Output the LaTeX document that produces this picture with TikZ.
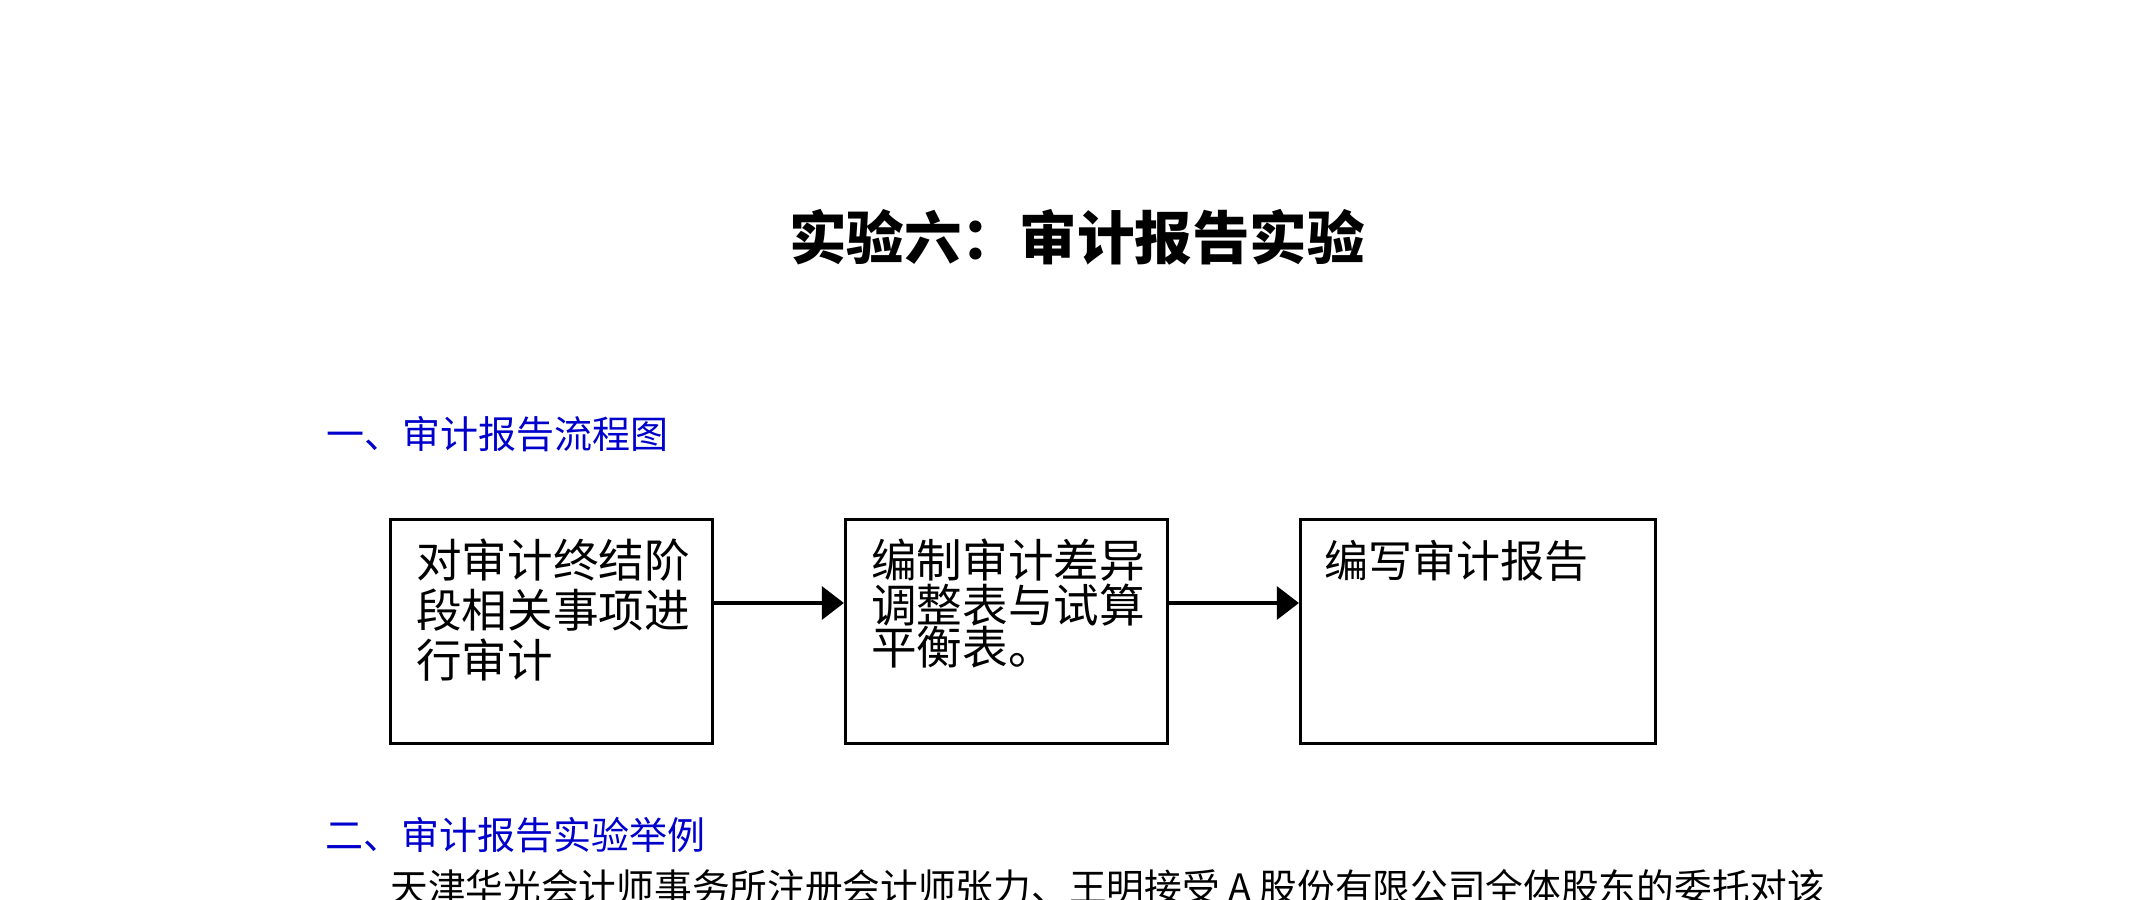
\documentclass[tikz,border=0pt]{standalone}
\usepackage{fontspec}
\setmainfont{Noto Sans CJK SC}
\usetikzlibrary{arrows.meta,positioning}
\definecolor{headblue}{RGB}{0,0,204}
\tikzset{
  box/.style={draw, line width=1.6pt, minimum width=161pt, minimum height=112pt, inner sep=0pt},
  boxtext/.style={align=left, inner sep=0pt, font=\fontsize{22.8}{25}\selectfont},
  flow/.style={line width=1.6pt, -{Triangle[length=11pt,width=16.5pt]}},
  heading/.style={anchor=west, inner sep=0pt, text=headblue, font=\fontsize{19}{22}\selectfont},
}
\begin{document}
\begin{tikzpicture}[x=0.5pt, y=-0.5pt]
        \useasboundingbox (0,0) rectangle (2149,900);
        \node[font=\bfseries\fontsize{28.8}{32}\selectfont] (title) at (1077,237) {实验六：审计报告实验};
        \node[heading] (sec1) at (326,434) {一、审计报告流程图};
        
        \node[box] (b1) at (551.5,631.5) {};
        \node[box] (b2) at (1006.5,631.5) {};
        \node[box, minimum width=177.5pt] (b3) at (1478,631.5) {};
        
        \node[boxtext, below right=10.5pt and 13.5pt of b1.north west] (t1) {对审计终结阶\\段相关事项进\\行审计};
        \node[boxtext, font=\fontsize{22.8}{21}\selectfont, below right=10.5pt and 13.5pt of b2.north west] (t2) {编制审计差异\\调整表与试算\\平衡表。};
        \node[boxtext, font=\fontsize{22}{25}\selectfont, below right=10.75pt and 12.75pt of b3.north west] (t3) {编写审计报告};
        
        \draw[flow] ([yshift=14.25pt]b1.east) -- ([yshift=14.25pt]b2.west);
        \draw[flow] ([yshift=14.25pt]b2.east) -- ([yshift=14.25pt]b3.west);
        
        \node[heading] (sec2) at (325,835) {二、审计报告实验举例};
        \node[anchor=west, inner sep=0pt, font=\fontsize{18.85}{22}\selectfont] (para) at (390,887) {天津华光会计师事务所注册会计师张力、王明接受 A 股份有限公司全体股东的委托对该};
    \end{tikzpicture}
\end{document}
